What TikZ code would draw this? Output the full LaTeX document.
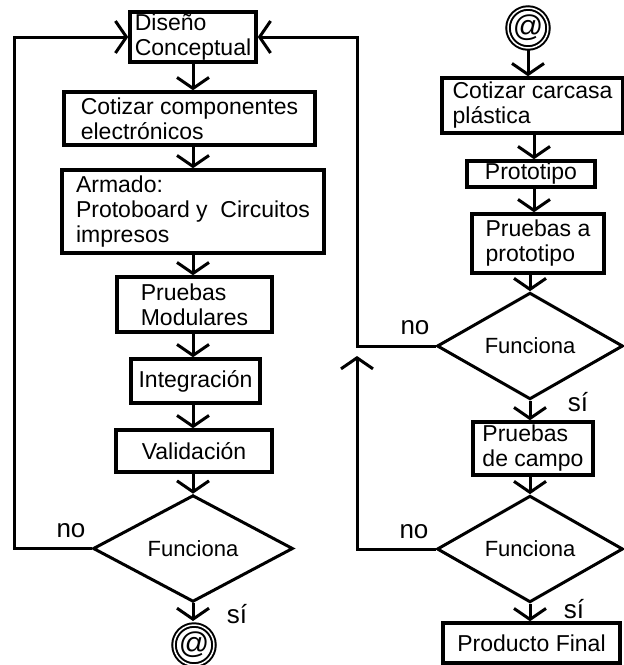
\documentclass[tikz,border=0pt]{standalone}
\usepackage{fontspec}
\setmainfont{Liberation Sans}
\usetikzlibrary{arrows.meta,shapes.geometric}
\tikzset{
  box/.style={draw, line width=3.5pt, inner sep=0pt, align=left,
    font=\fontsize{23}{25}\selectfont},
  decision/.style={diamond, draw, line width=3pt, inner sep=0pt,
    minimum width=#1, minimum height=97pt,
    font=\fontsize{22}{24}\selectfont},
  connector/.style={draw, circle, double, line width=2pt, double distance=1.5pt,
    inner sep=0pt, font=\fontsize{30}{30}\selectfont},
  arr/.style={line width=3pt, -{Straight Barb[length=11pt,width=32pt]}},
  lab/.style={font=\fontsize{26}{28}\selectfont, inner sep=0pt}
}
\begin{document}
\begin{tikzpicture}[x=1pt,y=-1pt]
\useasboundingbox (0,0) rectangle (624,665);
% left column
\node[box, minimum width=126pt, minimum height=50pt] (dis) at (193,37) {Diseño\\Conceptual};
\node[box, minimum width=251pt, minimum height=53pt] (cot) at (189.5,118.5) {Cotizar componentes\\electrónicos};
\node[box, minimum width=262pt, minimum height=83pt] (arm) at (193,211.5) {Armado:\\Protoboard y\ \ Circuitos\\impresos};
\node[box, minimum width=155pt, minimum height=55pt] (pm) at (194.5,304.5) {Pruebas\\Modulares};
\node[box, minimum width=129pt, minimum height=44pt] (int) at (195.5,381) {Integración};
\node[box, minimum width=156pt, minimum height=42pt] (val) at (194,451) {Validación};
\node[decision=200pt] (dl) at (193,548.5) {Funciona};
\node[connector, minimum size=34pt] (at1) at (194,645) {@};
% right column
\node[connector, minimum size=32pt] (at0) at (528,28) {@};
\node[box, minimum width=181pt, minimum height=55pt] (carc) at (532.5,105.5) {Cotizar carcasa\\plástica};
\node[box, minimum width=128pt, minimum height=26pt] (proto) at (531,174) {Prototipo};
\node[box, minimum width=132pt, minimum height=59pt] (pap) at (538,243.5) {Pruebas a\\prototipo};
\node[decision=186pt] (dr1) at (530,346) {Funciona};
\node[box, minimum width=120pt, minimum height=53pt] (pdc) at (533,448.5) {Pruebas\\de campo};
\node[decision=186pt] (dr2) at (530,549) {Funciona};
\node[box, minimum width=177pt, minimum height=40pt] (pf) at (531.5,643) {Producto Final};
% helper coordinates
\coordinate (lx) at (14,0);
\coordinate (rx) at (357,0);
\coordinate (cx) at (534,0);
\coordinate (tip) at (357,356);
% left connectors
\draw[arr] (dis.south) -- (dis.south |- cot.north);
\draw[arr] (cot.south -| dis.south) -- (dis.south |- arm.north);
\draw[arr] (arm.south) -- (arm.south |- pm.north);
\draw[arr] (pm.south -| arm.south) -- (arm.south |- int.north);
\draw[arr] (int.south -| arm.south) -- (arm.south |- val.north);
\draw[arr] (val.south -| dl.north) -- (dl.north);
\draw[arr, shorten >=3pt] (dl.south) -- (dl.south |- at1.north);
\draw[arr] (dl.west) -| (lx |- dis.west) -- (dis.west);
% right connectors
\draw[arr] (at0.south) -- (at0.south |- carc.north);
\draw[arr] (carc.south -| cx) -- (cx |- proto.north);
\draw[arr] (proto.south -| cx) -- (cx |- pap.north);
\draw[arr] (pap.south -| dr1.north) -- (dr1.north);
\draw[arr] (dr1.south) -- (dr1.south |- pdc.north);
\draw[arr] (pdc.south -| dr2.north) -- (dr2.north);
\draw[arr] (dr2.south) -- (dr2.south |- pf.north);
\draw[arr] (dr1.west) -| (rx |- dis.east) -- (dis.east);
\draw[arr] (dr2.west) -| (tip);
% labels
\node[lab] (nol) at (71,531) {no};
\node[lab] (sil) at (237,614) {sí};
\node[lab] (nor1) at (415,328) {no};
\node[lab] (sir1) at (578,402) {sí};
\node[lab] (nor2) at (414,532) {no};
\node[lab] (sir2) at (574,609) {sí};
\end{tikzpicture}
\end{document}
